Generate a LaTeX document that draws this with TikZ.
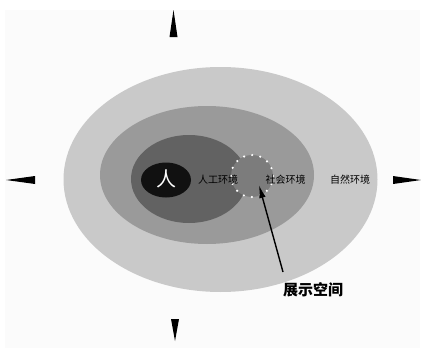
\documentclass[tikz,border=0pt]{standalone}
\usepackage{fontspec}
\newfontfamily\cjk{Noto Sans CJK SC}
\usetikzlibrary{arrows.meta}
\definecolor{bgc}{HTML}{FBFBFB}
\definecolor{outerc}{HTML}{C9C9C9}
\definecolor{midc}{HTML}{9A9A9A}
\definecolor{innerc}{HTML}{626262}
\definecolor{circc}{HTML}{7C7C7C}
\definecolor{manc}{HTML}{111111}
\tikzset{
  lab/.style={font=\cjk\fontsize{10}{10}\selectfont, text=black, inner sep=0pt},
  spike/.style={fill=black, draw=none},
}
\begin{document}
\begin{tikzpicture}[x=1pt,y=-1pt]
\useasboundingbox (0,0) rectangle (421,348);
\fill[white] (0,0) rectangle (421,348);
\fill[bgc] (5,10) rectangle (420,348);
% ellipses
\fill[outerc] (220.5,179.5) ellipse [x radius=157, y radius=112.5];
\fill[midc] (207,175) ellipse [x radius=107, y radius=69];
\fill[innerc] (189,179) ellipse [x radius=58, y radius=44];
\fill[circc] (252,176) circle [radius=21];
\draw[white, line width=2.4pt, line cap=round, dash pattern=on 0pt off 8.25pt] (252,176) circle [radius=21];
\fill[manc] (166,180) ellipse [x radius=25, y radius=17.5];
% texts
\node[lab, text=white, font=\cjk\fontsize{20}{20}\selectfont] (ren) at (166,179) {人};
\node[lab] (rg) at (218,180) {人工环境};
\node[lab] (sh) at (285.5,180) {社会环境};
\node[lab] (zr) at (350,180) {自然环境};
\node[lab, font=\cjk\bfseries\fontsize{15}{15}\selectfont] (zs) at (313,290) {展示空间};
\coordinate (tail) at (283,272);
\coordinate (tip) at (259,185);
\draw[line width=1.4pt, -{Latex[length=13pt,width=6.5pt]}] (tail) -- (tip);
% compass spikes
\fill[spike] (173.5,10) -- (169.5,37) -- (177.5,37) -- cycle;
\fill[spike] (175,341) -- (171,319) -- (179,319) -- cycle;
\fill[spike] (6,180) -- (35,176) -- (35,184) -- cycle;
\fill[spike] (421,180) -- (393,176) -- (393,184) -- cycle;
\end{tikzpicture}
\end{document}
